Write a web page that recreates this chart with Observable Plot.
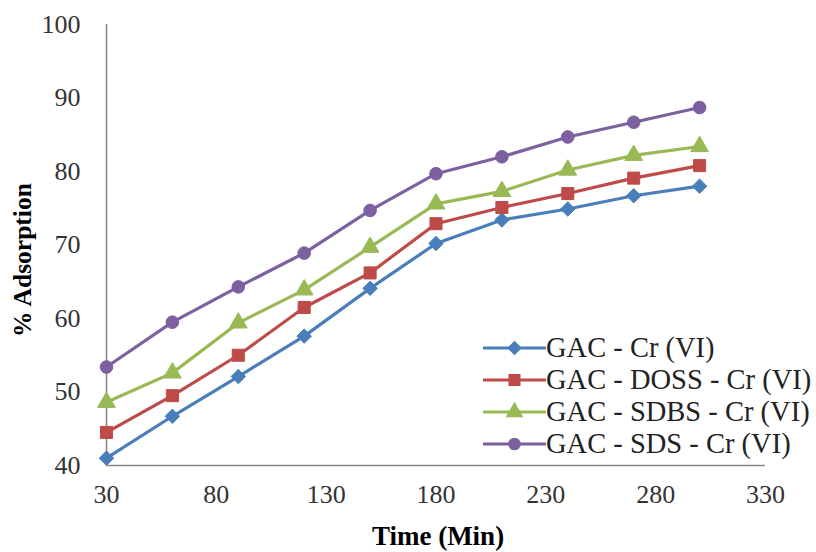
<!DOCTYPE html>
<html>
<head>
<meta charset="utf-8">
<script src="https://cdn.jsdelivr.net/npm/d3@7"></script>
<script src="https://cdn.jsdelivr.net/npm/@observablehq/plot@0.6"></script>
<style>
  html, body { margin: 0; padding: 0; background: #fff; }
  #wrap { position: relative; width: 816px; height: 552px; overflow: hidden; }
  #legend { position: absolute; left: 483px; top: 332px; font-family: "Liberation Serif", serif; font-size: 28.5px; color: #222; }
  .row { display: flex; align-items: center; height: 32px; white-space: nowrap; }
  .row svg { flex: none; }
</style>
</head>
<body>
<div id="wrap"></div>
<script>
const times = [30, 60, 90, 120, 150, 180, 210, 240, 270, 300];
const seriesNames = ["GAC - Cr (VI)", "GAC - DOSS - Cr (VI)", "GAC - SDBS - Cr (VI)", "GAC - SDS - Cr (VI)"];
const gacCr   = [41.0, 46.7, 52.1, 57.6, 64.1, 70.2, 73.4, 74.9, 76.7, 78.0];
const gacDoss = [44.5, 49.5, 55.0, 61.5, 66.2, 72.9, 75.1, 77.0, 79.1, 80.8];
const gacSdbs = [48.6, 52.6, 59.4, 63.9, 69.7, 75.6, 77.3, 80.2, 82.2, 83.4];
const gacSds  = [53.4, 59.5, 64.3, 68.9, 74.7, 79.7, 82.0, 84.7, 86.7, 88.7];
const xTicks = [30, 80, 130, 180, 230, 280, 330];
const yTicks = [40, 50, 60, 70, 80, 90, 100];
const xTitle = "Time (Min)";
const yTitle = "% Adsorption";
const colors = ["#4A7EBB", "#BE4B48", "#98B954", "#7D60A0"];
const symbols = ["diamond2", "square", "triangle", "circle"];
const radii = [6.5, 6.8, 6.6, 6.3];

const allValues = [gacCr, gacDoss, gacSdbs, gacSds];
const data = [];
allValues.forEach((vals, si) => {
  vals.forEach((v, i) => data.push({series: seriesNames[si], time: times[i], value: v, si}));
});

const marks = [
  Plot.ruleX([30], {stroke: "#868686", strokeWidth: 1.5}),
  Plot.ruleY([40], {stroke: "#868686", strokeWidth: 1.5}),
  Plot.axisX({ticks: xTicks, tickSize: 0, tickPadding: 19, label: null, fontSize: 26}),
  Plot.axisY({ticks: yTicks, tickSize: 0, tickPadding: 26, label: null, fontSize: 26}),
  Plot.text([xTitle], {frameAnchor: "bottom", text: d => d, dy: 79, dx: 2, fontSize: 27, fontWeight: "bold", fill: "#000"}),
  Plot.text([yTitle], {frameAnchor: "left", text: d => d, textAnchor: "middle", rotate: -90, dx: -84, dy: 15, fontSize: 25.5, fontWeight: "bold", fill: "#000"}),
  Plot.line(data, {x: "time", y: "value", z: "series", stroke: "series", strokeWidth: 3.2})
];
seriesNames.forEach((name, si) => {
  marks.push(Plot.dot(data.filter(d => d.si === si), {x: "time", y: "value", symbol: () => symbols[si], r: radii[si], fill: colors[si], stroke: colors[si], strokeWidth: 1}));
});

const chart = Plot.plot({
  width: 816,
  height: 552,
  marginLeft: 106,
  marginRight: 51,
  marginTop: 24,
  marginBottom: 87,
  style: {fontFamily: "Liberation Serif, serif", fontSize: "26px", color: "#333", background: "#fff"},
  x: {domain: [30, 330]},
  y: {domain: [40, 100]},
  color: {domain: seriesNames, range: colors},
  symbol: {domain: symbols, range: symbols},
  marks
});
document.getElementById("wrap").appendChild(chart);

// legend
const legend = document.createElement("div");
legend.id = "legend";
const symMap = {diamond2: d3.symbolDiamond2, square: d3.symbolSquare, triangle: d3.symbolTriangle, circle: d3.symbolCircle};
seriesNames.forEach((name, si) => {
  const row = document.createElement("div");
  row.className = "row";
  const sw = d3.create("svg").attr("width", 63).attr("height", 20);
  sw.append("line").attr("x1", 0).attr("x2", 63).attr("y1", 10).attr("y2", 10).attr("stroke", colors[si]).attr("stroke-width", 3.2);
  sw.append("path").attr("d", d3.symbol(symMap[symbols[si]], Math.PI * radii[si] * radii[si])()).attr("transform", "translate(31.5,10)").attr("fill", colors[si]);
  row.appendChild(sw.node());
  const t = document.createElement("span");
  t.textContent = name;
  row.appendChild(t);
  legend.appendChild(row);
});
document.getElementById("wrap").appendChild(legend);
</script>
</body>
</html>
